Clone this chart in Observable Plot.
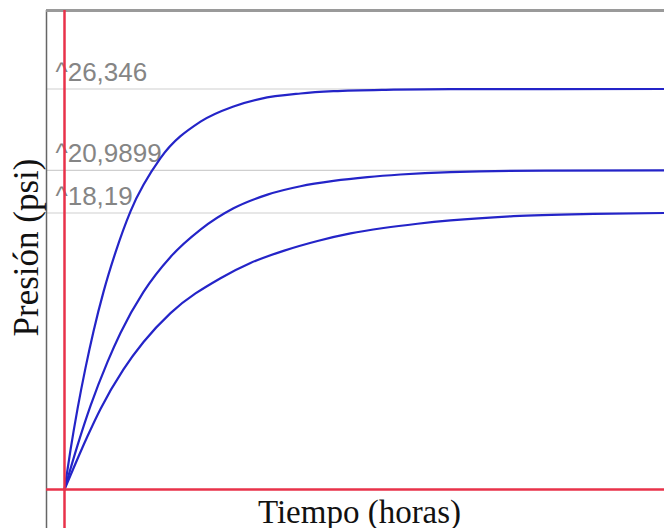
<!DOCTYPE html>
<html>
<head>
<meta charset="utf-8">
<script src="https://cdn.jsdelivr.net/npm/d3@7"></script>
<script src="https://cdn.jsdelivr.net/npm/@observablehq/plot@0.6"></script>
<style>
  html, body { margin: 0; padding: 0; background: #fff; }
  #chart svg { display: block; }
</style>
</head>
<body>
<div id="chart"></div>
<script>
// Curve 1 (highest asymptote)
const time1 = [0, 1, 2.17, 3.5, 4.83, 6.5, 8.5, 11, 16, 22.67, 28.17, 32.67, 39.33, 44.83, 54.83, 64.33, 100];
const pres1 = [0, 2.6, 5.3, 8.0, 10.4, 13.0, 15.6, 18.3, 21.8, 24.2, 25.2, 25.7, 26.05, 26.2, 26.3, 26.34, 26.346];
// Curve 2
const time2 = [0, 2.17, 4.33, 7.17, 9.33, 13.17, 17.67, 22.67, 28.17, 33.83, 39.33, 44.83, 50.5, 56, 64.33, 80, 100];
const pres2 = [0, 2.9, 5.5, 8.4, 10.3, 13.0, 15.3, 17.1, 18.5, 19.4, 19.95, 20.3, 20.55, 20.72, 20.88, 20.98, 20.9899];
// Curve 3
const time3 = [0, 1.5, 3.83, 6, 9.83, 13.17, 17.67, 26, 31, 36.5, 42.17, 47.67, 53.17, 58.83, 64.33, 74.83, 88.17, 100];
const pres3 = [0, 1.4, 3.5, 5.3, 7.9, 9.7, 11.6, 13.9, 14.9, 15.7, 16.35, 16.85, 17.2, 17.48, 17.7, 17.98, 18.13, 18.19];

// Asymptote levels and their labels
const levels = [26.346, 20.9899, 18.19];
const levelLabels = ["26,346", "20,9899", "18,19"];

const xLabel = "Tiempo (horas)";
const yLabel = "Presión (psi)";

const rows = [];
[[time1, pres1, "1"], [time2, pres2, "2"], [time3, pres3, "3"]].forEach(([ts, ps, s]) => {
  ts.forEach((t, i) => rows.push({t, p: ps[i], serie: s}));
});

const xDomain = [-3, 100];
const yDomain = [-2.566, 31.51];

const chart = Plot.plot({
  width: 664,
  height: 528,
  marginLeft: 46,
  marginTop: 10,
  marginRight: 0,
  marginBottom: 0,
  style: {background: "#fff", overflow: "visible"},
  x: {domain: xDomain, axis: null},
  y: {domain: yDomain, axis: null},
  marks: [
    Plot.ruleY(levels, {stroke: "#cfcfcf", strokeWidth: 1.2}),
    Plot.text(levels, {
      x: 0, y: d => d, text: (d, i) => "^" + levelLabels[i],
      textAnchor: "start", lineAnchor: "bottom", dx: -9, dy: -8,
      fill: "#858585", fontSize: 26, fontFamily: "Liberation Sans, Arial, sans-serif"
    }),
    Plot.line(rows, {x: "t", y: "p", z: "serie", curve: "monotone-x", stroke: "#2424c8", strokeWidth: 2.2}),
    Plot.ruleX([xDomain[0]], {stroke: "#666", strokeWidth: 1.5}),
    Plot.ruleY([yDomain[1]], {stroke: "#9a9a9a", strokeWidth: 3}),
    Plot.ruleX([0], {stroke: "#e8324a", strokeWidth: 2.5}),
    Plot.ruleY([0], {x1: xDomain[0], x2: xDomain[1], stroke: "#e8324a", strokeWidth: 2.5}),
    Plot.text([xLabel], {
      frameAnchor: "bottom", textAnchor: "middle", lineAnchor: "bottom", dy: -6, dx: 4,
      fontSize: 33, fill: "#111", fontFamily: "Liberation Serif, Times New Roman, serif"
    }),
    Plot.text([yLabel], {
      frameAnchor: "left", textAnchor: "middle", rotate: -90, lineAnchor: "bottom", dx: -9, dy: -22,
      fontSize: 35, fill: "#111", fontFamily: "Liberation Serif, Times New Roman, serif"
    })
  ]
});
document.getElementById("chart").appendChild(chart);
</script>
</body>
</html>
